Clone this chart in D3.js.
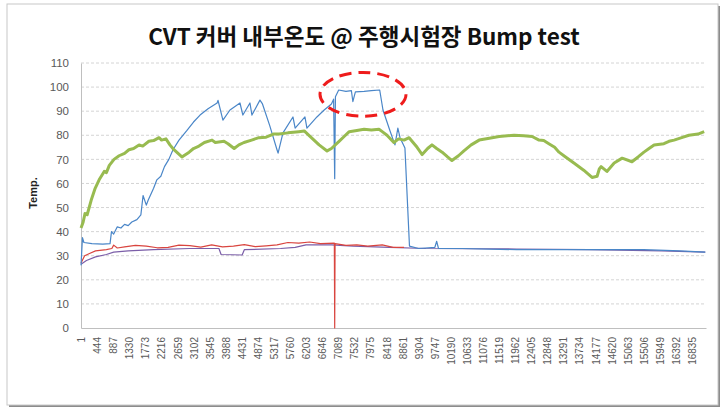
<!DOCTYPE html>
<html>
<head>
<meta charset="utf-8">
<script src="https://cdn.jsdelivr.net/npm/d3@7"></script>
<style>
  body { margin: 0; background: #fff; }
  .axis text { font-family: "Liberation Sans", Arial, sans-serif; fill: #595959; }
</style>
</head>
<body>
<div id="chart"></div>
<script>
// Chart text
var chartTitle = "CVT 커버 내부온도 @ 주행시험장 Bump test";
var yTitle = "Temp.";

// Category axis labels (sample number)
var xTickLabels = [1, 444, 887, 1330, 1773, 2216, 2659, 3102, 3545, 3988, 4431, 4874,
	5317, 5760, 6203, 6646, 7089, 7532, 7975, 8418, 8861, 9304, 9747, 10190, 10633,
	11076, 11519, 11962, 12405, 12848, 13291, 13734, 14177, 14620, 15063, 15506,
	15949, 16392, 16835];
var yTicks = [0, 10, 20, 30, 40, 50, 60, 70, 80, 90, 100, 110];
var lastSample = 17220;

// Series: [sample, temperature]
var greenSeries = [[1, 41.5], [60, 44], [110, 47.5], [170, 47], [280, 53], [390, 58],
	[500, 61.5], [640, 65], [700, 64.5], [780, 67.5], [910, 70], [1050, 71.5], [1200, 72.5],
	[1320, 74], [1450, 74.5], [1600, 76], [1700, 75.5], [1870, 77.5], [2000, 77.8],
	[2150, 79], [2220, 78], [2340, 78.5], [2450, 76], [2560, 74], [2780, 71], [2980, 73],
	[3100, 74.5], [3250, 75.5], [3400, 77], [3610, 78], [3700, 77], [3940, 77.5], [4050, 76.5],
	[4220, 74.5], [4350, 76], [4490, 77], [4700, 78], [4900, 79], [5100, 79.2], [5300, 80.5],
	[5460, 80.5], [5700, 81], [6000, 81.5], [6150, 81.8], [6280, 80], [6420, 78], [6560, 76],
	[6780, 73.5], [6900, 74.5], [7110, 77.5], [7250, 79.5], [7390, 81.5], [7600, 82],
	[7800, 82.5], [8000, 82.2], [8210, 82.5], [8300, 81.5], [8430, 80], [8620, 77],
	[8750, 78.5], [8900, 78], [9040, 79], [9150, 77], [9260, 75], [9400, 72], [9550, 74.5],
	[9670, 76], [9800, 74.5], [9950, 73], [10100, 71], [10220, 69.5], [10400, 71.5],
	[10550, 73.5], [10750, 76], [10970, 78], [11250, 78.8], [11520, 79.5], [11750, 79.8],
	[11930, 80], [12200, 79.8], [12430, 79.5], [12620, 78], [12750, 77.8], [12890, 76.5],
	[13050, 75], [13170, 73], [13350, 71], [13580, 68.5], [13850, 65.5], [14080, 62.5],
	[14220, 63], [14280, 66], [14330, 67], [14490, 65], [14690, 68.5], [14910, 70.5],
	[15180, 69], [15350, 71], [15510, 73], [15650, 74.5], [15790, 76], [16060, 76.5],
	[16200, 77.5], [16340, 78], [16550, 79], [16750, 80], [17000, 80.5], [17170, 81.5]];

var blueSeries = [[1, 26], [40, 37.5], [80, 35.5], [300, 35], [600, 34.8], [800, 35],
	[840, 40], [900, 39], [1000, 42], [1100, 41.5], [1200, 43], [1300, 42.5], [1400, 44],
	[1540, 45], [1650, 47], [1710, 55], [1800, 51], [1850, 53], [2000, 58], [2090, 61.5],
	[2200, 63], [2300, 67], [2420, 70], [2535, 74], [2700, 78], [2920, 82], [3100, 85.5],
	[3280, 88.4], [3500, 91], [3750, 93.4], [3775, 94.5], [3910, 86.3], [4105, 90.5],
	[4380, 93.4], [4460, 88.4], [4655, 93.4], [4710, 88.4], [4930, 94.6], [5000, 93],
	[5200, 84], [5400, 74], [5430, 72.6], [5565, 81], [5840, 87.6], [5900, 83], [6170, 87.6],
	[6225, 83], [6500, 87.6], [6700, 90.5], [6900, 93], [6960, 95], [6990, 62], [7010, 96],
	[7100, 98.8], [7300, 98.2], [7450, 98.5], [7490, 94], [7560, 98], [7800, 98.2],
	[8000, 98.5], [8230, 98.8], [8320, 90.5], [8510, 82], [8650, 76], [8730, 83], [8790, 79],
	[8925, 74.7], [9050, 34], [9300, 33], [9750, 33.5], [9800, 36], [9850, 33], [10500, 33],
	[12000, 32.5], [14000, 32.5], [15500, 32.5], [16500, 32], [17200, 31.5]];

var redSeries = [[1, 27], [100, 30], [250, 31], [400, 32], [700, 32.5], [850, 33],
	[900, 34.4], [1000, 33.2], [1200, 33.7], [1500, 34.3], [1800, 34], [2100, 33.3],
	[2400, 33.5], [2700, 34.4], [3000, 34.2], [3300, 33.6], [3600, 34.5], [3900, 33.7],
	[4200, 34], [4500, 34.6], [4800, 33.8], [5100, 34.1], [5400, 34.5], [5700, 35.5],
	[6000, 35.2], [6300, 35.7], [6600, 35], [6980, 35.2], [6990, 0], [7000, 35], [7300, 34.3],
	[7600, 34.5], [7900, 34], [8300, 34.5], [8600, 33.5], [8900, 33.5]];

var purpleSeries = [[1, 26.5], [150, 28], [400, 29.5], [700, 30.5], [900, 31.5],
	[1300, 32], [2000, 32.5], [3000, 33], [3800, 33], [3860, 30.5], [4440, 30.3],
	[4500, 32.5], [5500, 33], [5900, 33.5], [6200, 34.5], [6900, 34.5], [7500, 34],
	[8500, 33.5], [9500, 33], [12000, 32.8], [14000, 32.5], [16000, 32], [17200, 31.5]];

// Dashed ellipse annotation: centre sample, centre temp, half-width (samples), half-height (deg)
var highlight = {cx: 7770, cy: 97, rx: 1185, ry: 9.1};

var margin = {top: 63, right: 21, bottom: 86, left: 81};
var W = 727, H = 414;
var width = W - margin.left - margin.right,
	height = H - margin.top - margin.bottom;

var svg = d3.select("#chart").append("svg")
	.attr("width", W)
	.attr("height", H);

// chart frame with shadow
svg.append("rect").attr("x", 9).attr("y", 6).attr("width", 711).attr("height", 401)
	.attr("fill", "#8c8c8c");
svg.append("rect").attr("x", 7).attr("y", 4).attr("width", 711).attr("height", 401)
	.attr("fill", "#fff").attr("stroke", "#c8c8c8").attr("stroke-width", 1);

svg.append("text")
	.attr("x", 364)
	.attr("y", 45)
	.attr("text-anchor", "middle")
	.style("font-family", "'Noto Sans CJK KR', sans-serif")
	.style("font-weight", "bold")
	.style("font-size", "22.5px")
	.style("fill", "#111")
	.text(chartTitle);

var g = svg.append("g")
	.attr("transform", "translate(" + margin.left + "," + margin.top + ")");

var x = d3.scaleLinear().domain([0, lastSample]).range([0, width]);
var y = d3.scaleLinear().domain([0, 110]).range([height, 0]);

// gridlines
g.append("g")
	.selectAll("line")
	.data(yTicks.filter(function(d) { return d > 0; }))
	.enter().append("line")
	.attr("x1", 0).attr("x2", width)
	.attr("y1", function(d) { return y(d); })
	.attr("y2", function(d) { return y(d); })
	.style("stroke", "#d4d4d4")
	.style("stroke-dasharray", "3,2");

var yAxis = d3.axisLeft(y).tickValues(yTicks).tickSize(0).tickPadding(12);
var yG = g.append("g").attr("class", "axis").call(yAxis);
yG.select(".domain").style("stroke", "#bfbfbf");
yG.selectAll("text").style("font-size", "11.5px");

var xAxis = d3.axisBottom(x).tickValues(xTickLabels).tickSize(0).tickFormat(d3.format("d"));
var xG = g.append("g").attr("class", "axis")
	.attr("transform", "translate(0," + height + ")")
	.call(xAxis);
xG.select(".domain").style("stroke", "#bfbfbf");
xG.selectAll("text")
	.style("font-size", "10px")
	.style("text-anchor", "end")
	.attr("y", 0)
	.attr("dy", "0.35em")
	.attr("transform", "translate(0,9) rotate(-90)");

svg.append("text")
	.attr("transform", "translate(37,193) rotate(-90)")
	.attr("text-anchor", "middle")
	.style("font-family", "'Liberation Sans', Arial, sans-serif")
	.style("font-weight", "bold")
	.style("font-size", "11px")
	.style("fill", "#222")
	.text(yTitle);

var line = d3.line()
	.x(function(d) { return x(d[0]); })
	.y(function(d) { return y(d[1]); });

var series = [
	{data: purpleSeries, color: "#7b5ea8", w: 1.2},
	{data: redSeries, color: "#d9453f", w: 1.2},
	{data: blueSeries, color: "#4a86c8", w: 1.2},
	{data: greenSeries, color: "#98bb50", w: 3}
];

g.selectAll(".series")
	.data(series)
	.enter().append("path")
	.attr("class", "series")
	.attr("fill", "none")
	.attr("stroke", function(d) { return d.color; })
	.attr("stroke-width", function(d) { return d.w; })
	.attr("stroke-linejoin", "round")
	.attr("d", function(d) { return line(d.data); });

g.append("ellipse")
	.attr("cx", x(highlight.cx))
	.attr("cy", y(highlight.cy))
	.attr("rx", x(highlight.rx) - x(0))
	.attr("ry", y(0) - y(highlight.ry))
	.attr("fill", "none")
	.attr("stroke", "#ee1c1c")
	.attr("stroke-width", 3)
	.attr("stroke-dasharray", "12,7");
</script>
</body>
</html>
